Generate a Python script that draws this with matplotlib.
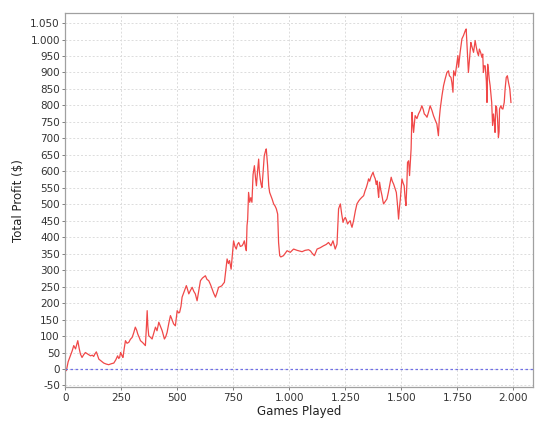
import matplotlib
matplotlib.use("Agg")
import matplotlib.pyplot as plt
from matplotlib.ticker import MultipleLocator, FuncFormatter

# cumulative profit (game number, profit in $)
games = [
    0, 4, 12, 22, 30, 37, 45, 55, 62, 67, 74, 82, 89, 100, 112, 120, 126, 132,
    138, 144, 149, 160, 171, 182, 193, 205, 216, 225, 233, 238, 242, 246, 250, 254,
    257, 262, 268, 275, 283, 290, 298, 305, 312, 318, 323, 330, 335, 345, 357, 361,
    365, 368, 372, 380, 387, 395, 402, 409, 417, 425, 432, 437, 442, 448, 454, 462,
    469, 476, 483, 491, 499, 506, 510, 516, 521, 530, 540, 546, 551, 558, 566, 573,
    580, 588, 596, 603, 612, 625, 632, 640, 648, 655, 662, 670, 677, 684, 692, 699,
    704, 710, 716, 722, 728, 733, 740, 746, 751, 757, 763, 768, 774, 781, 789, 794,
    799, 804, 808, 811, 814, 818, 823, 828, 833, 838, 844, 849, 853, 858, 863, 866,
    870, 874, 878, 883, 888, 893, 897, 903, 908, 912, 918, 923, 930, 936, 942, 948,
    952, 957, 962, 974, 990, 1004, 1019, 1035, 1057, 1070, 1086, 1095, 1101, 1112,
    1124, 1138, 1153, 1165, 1175, 1186, 1195, 1205, 1213, 1220, 1228, 1234, 1240,
    1245, 1250, 1255, 1260, 1266, 1272, 1276, 1280, 1287, 1295, 1302, 1310, 1317,
    1324, 1332, 1338, 1344, 1350, 1354, 1359, 1364, 1369, 1374, 1379, 1384, 1388,
    1392, 1396, 1399, 1403, 1408, 1414, 1418, 1421, 1428, 1436, 1442, 1448, 1455,
    1460, 1466, 1472, 1478, 1483, 1488, 1492, 1496, 1503, 1508, 1513, 1517, 1521,
    1525, 1528, 1533, 1537, 1540, 1544, 1548, 1552, 1555, 1562, 1570, 1577, 1585,
    1592, 1598, 1603, 1609, 1615, 1622, 1629, 1637, 1644, 1652, 1659, 1666, 1670,
    1674, 1682, 1689, 1696, 1704, 1711, 1715, 1722, 1726, 1731, 1734, 1741, 1749,
    1753, 1756, 1763, 1771, 1778, 1786, 1790, 1793, 1800, 1806, 1811, 1815, 1823,
    1830, 1834, 1840, 1845, 1849, 1855, 1860, 1864, 1867, 1870, 1875, 1880, 1883,
    1886, 1889, 1893, 1897, 1901, 1904, 1908, 1912, 1916, 1919, 1922, 1926, 1930,
    1934, 1937, 1939, 1942, 1945, 1950, 1954, 1957, 1960, 1964, 1969, 1974, 1979,
    1985, 1990,
]
profit = [
    0, -5, 22, 40, 55, 71, 61, 86, 60, 45, 35, 44, 50, 45, 40, 42, 38, 46,
    52, 40, 30, 24, 18, 15, 13, 16, 18, 28, 40, 32, 35, 50, 45, 38,
    35, 60, 86, 78, 81, 90, 96, 110, 127, 118, 106, 95, 86, 80, 71, 120,
    177, 130, 101, 96, 91, 110, 127, 116, 142, 128, 116, 104, 91, 98, 111, 140,
    162, 150, 137, 131, 177, 170, 172, 190, 218, 235, 253, 240, 228, 238, 248, 236,
    228, 207, 240, 268, 276, 283, 272, 268, 256, 243, 230, 218, 232, 248, 250, 253,
    258, 263, 300, 334, 320, 329, 303, 350, 389, 372, 364, 378, 384, 372, 374, 380,
    389, 370, 359, 435, 455, 536, 506, 520, 506, 590, 617, 580, 556, 600, 637, 600,
    577, 560, 551, 600, 647, 660, 668, 617, 556, 536, 525, 516, 501, 495, 486, 470,
    384, 344, 340, 344, 359, 354, 364, 360, 356, 360, 362, 358, 352, 344,
    364, 368, 374, 378, 384, 374, 389, 364, 379, 486, 501, 470, 445,
    455, 460, 452, 440, 446, 450, 438, 430, 450, 480, 501, 510, 516,
    521, 526, 540, 551, 565, 577, 570, 582, 590, 597, 585, 577, 560,
    571, 540, 521, 567, 545, 526, 510, 501, 508, 516, 535, 556, 582,
    570, 561, 548, 536, 500, 455, 490, 516, 577, 565, 556, 520, 496,
    560, 627, 632, 587, 620, 668, 779, 740, 718, 769, 760, 774, 785,
    799, 788, 774, 770, 764, 780, 799, 785, 769, 755, 744, 708, 760,
    789, 830, 860, 880, 900, 905, 890, 885, 870, 840, 905, 890, 931,
    951, 916, 961, 1002, 1012, 1027, 1032, 991, 900, 950, 991, 980, 961,
    997, 981, 961, 951, 971, 960, 946, 956, 900, 920, 920, 875, 809,
    925, 910, 880, 860, 830, 809, 739, 774, 749, 718, 799, 794, 760,
    703, 720, 789, 794, 799, 790, 789, 799, 809, 850, 885, 890, 870,
    850, 809,
]

x_ticks = [0, 250, 500, 750, 1000, 1250, 1500, 1750, 2000]

plt.rcParams["font.family"] = ["DejaVu Sans"]

fig = plt.figure(figsize=(5.41, 4.24), dpi=100)
ax = fig.add_axes([0.121, 0.087, 0.864, 0.882])

ax.plot(games, profit, color="#F04848", linewidth=0.9)
ax.axhline(0, color="#6E6EE6", linewidth=0.9, linestyle=(0, (2, 2)))

ax.set_xlim(0, 2088)
ax.set_ylim(-55, 1080)
ax.set_xticks(x_ticks)
ax.yaxis.set_major_locator(MultipleLocator(50))

# german-style thousands separator
fmt = FuncFormatter(lambda v, p: f"{int(v):,}".replace(",", "."))
ax.xaxis.set_major_formatter(fmt)
ax.yaxis.set_major_formatter(fmt)

ax.grid(True, color="#DCDCDC", linestyle=(0, (2, 2)), linewidth=0.7)
ax.set_axisbelow(True)

for s in ax.spines.values():
    s.set_color("#A0A0A0")
    s.set_linewidth(0.9)

ax.tick_params(axis="both", labelsize=7.5, labelcolor="#333333", length=2,
               width=0.7, pad=2, color="#808080")

ax.set_xlabel("Games Played", fontsize=8.5, color="#222222", labelpad=2)
ax.set_ylabel("Total Profit ($)", fontsize=8.5, color="#222222", labelpad=4)

fig.savefig("out.png", dpi=100)
